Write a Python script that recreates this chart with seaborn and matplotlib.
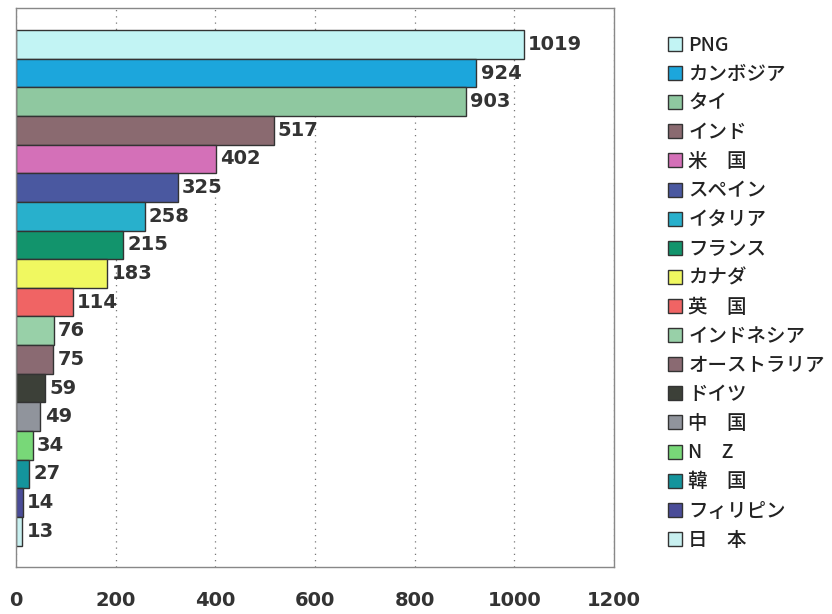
import matplotlib
matplotlib.use("Agg")
import matplotlib.pyplot as plt
from matplotlib.lines import Line2D
import pandas as pd
import seaborn as sns

# visitors by country
countries = ["PNG", "カンボジア", "タイ", "インド", "米\u3000国", "スペイン", "イタリア",
             "フランス", "カナダ", "英\u3000国", "インドネシア", "オーストラリア", "ドイツ",
             "中\u3000国", "N\u3000Z", "韓\u3000国", "フィリピン", "日\u3000本"]
values = [1019, 924, 903, 517, 402, 325, 258, 215, 183, 114, 76, 75, 59, 49, 34, 27, 14, 13]
colors = ["#c2f4f4", "#1ca6dc", "#8fc8a0", "#8a6a70", "#d470b8", "#4a58a0", "#28b0cc",
          "#12946c", "#f0f860", "#f06464", "#98d0a8", "#8a6a72", "#3c4038", "#90949c",
          "#78d878", "#14949c", "#4a4c98", "#c8f0f0"]
xticks = [0, 200, 400, 600, 800, 1000, 1200]

df = pd.DataFrame({"country": countries, "value": values})

sns.set_style("white")
plt.rcParams["font.family"] = ["Noto Sans CJK JP", "DejaVu Sans"]

fig = plt.figure(figsize=(8.32, 6.14), dpi=100)
ax = fig.add_axes([16 / 832, 1 - 567 / 614, 598 / 832, 559 / 614])

sns.barplot(data=df, x="value", y="country", hue="country", palette=colors,
            saturation=1, legend=False, width=1.0, edgecolor="#333333",
            linewidth=1.0, ax=ax)

for cont in ax.containers:
    ax.bar_label(cont, padding=3, fontsize=14, fontweight="bold", color="#333333",
                 family="DejaVu Sans")

ax.set_xlim(0, 1200)
ax.set_ylim(len(countries) - 0.5 + 0.75, -0.5 - 0.77)
ax.set_xticks(xticks)
ax.set_xticklabels([str(t) for t in xticks], fontsize=14, fontweight="bold",
                   color="#333333", family="DejaVu Sans")
ax.tick_params(axis="x", length=0, pad=17)
ax.set_yticks([])
ax.set_xlabel("")
ax.set_ylabel("")
ax.xaxis.grid(True, linestyle=(0, (1, 4)), color="#777777", linewidth=0.9)
for s in ax.spines.values():
    s.set_color("#888888")
    s.set_linewidth(1.0)

handles = [Line2D([], [], marker="s", linestyle="none", markersize=10,
                  markerfacecolor=c, markeredgecolor="#333333", markeredgewidth=1.0)
           for c in colors]
fig.legend(handles, countries, loc="upper left", bbox_to_anchor=(657 / 832, 1 - 28 / 614),
           frameon=False, prop={"size": 14, "weight": "medium"}, labelspacing=0.52,
           handletextpad=0.2, handlelength=1.0, borderaxespad=0, labelcolor="#222222")

fig.savefig("out.png", dpi=100)
